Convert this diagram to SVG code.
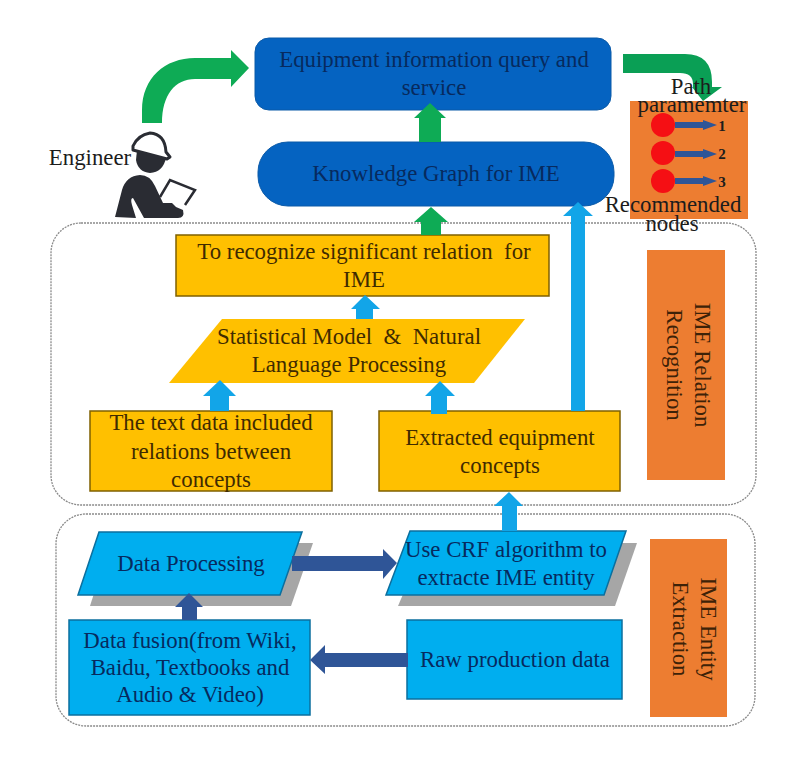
<svg xmlns="http://www.w3.org/2000/svg" width="800" height="763" viewBox="0 0 800 763">
<defs><style>
text{font-family:"Liberation Serif","Times New Roman",serif;font-size:22.8px;text-anchor:middle;white-space:pre}
.d{fill:#072a5e}.k{fill:#1c1c1c}.y{fill:#3f2b00}.r{fill:#3d2208}
.n{font-size:15px;font-weight:bold}
.blue{fill:#0563c1;stroke:#0b5aa8;stroke-width:1}
.cy{fill:#00aeef;stroke:#0b6f9e;stroke-width:1.5}
.am{fill:#ffc000;stroke:#7f6000;stroke-width:1.5}
.or{fill:#ed7d31}
.sh{fill:#a6a6a6}
.gr{fill:#0eab55}.lb{fill:#12a5e8}.nv{fill:#2f5597}
.pn{fill:none;stroke:#8a8a8a;stroke-width:1.3;stroke-dasharray:2 1}
.dot{fill:#f50f14}
.fig{fill:#2a2c33}
</style></defs>
<g id="panel-relation"><rect class="pn" x="51" y="223" width="705" height="282" rx="30"/></g>
<g id="panel-entity"><rect class="pn" x="56" y="514" width="699" height="212" rx="30"/></g>
<g id="query"><rect class="blue" x="255" y="38" width="356" height="72" rx="14"/><text class="d" x="434" y="67">Equipment information query and</text><text class="d" x="434" y="95">service</text></g>
<g id="kg"><rect class="blue" x="258" y="142" width="356" height="64" rx="30"/><text class="d" x="436" y="181">Knowledge Graph for IME</text></g>
<g id="engineer">
<path class="fig" d="M137 150L166 158Q163 172 150 173Q138 172 136 160Z"/>
<path fill="#fff" stroke="#2a2c33" stroke-width="3" stroke-linejoin="round" d="M133 146Q138 135 150 133Q165 134 166 152L170 157L167 159L133 150Z"/>
<path class="fig" d="M115 217L122 190Q126 176 140 175Q150 175 155 186L163 203L172 203L176 207L183 210Q185 218 178 218L144 218L133 198Q130 198 132 205L136 218Z"/>
<path fill="none" stroke="#2a2c33" stroke-width="2.5" d="M160 197L170 180L195 190L185 205"/>
<text class="k" x="90" y="165">Engineer</text>
</g>
<g id="result">
<rect class="or" x="630" y="101" width="118" height="118"/>
<path class="gr" style="fill:#0a9f55" d="M623 54H685Q712 54 712 82V87H722L703 101L692 87H693V84Q693 73 680 73H623Z"/>
<text class="k" x="691" y="94">Path</text><text class="k" x="692" y="112">paramemter</text>
<text class="k" x="673" y="212">Recommended</text><text class="k" x="672" y="231">nodes</text>
<circle class="dot" cx="663" cy="125" r="12"/><circle class="dot" cx="663" cy="153" r="12"/><circle class="dot" cx="663" cy="181" r="12"/>
<g class="nv"><path d="M675 122H703V120L717 125L703 130V128H675Z"/><path d="M675 151H703V149L717 154L703 159V157H675Z"/><path d="M675 178H703V176L717 181L703 186V184H675Z"/></g>
<text class="k n" x="722" y="131">1</text><text class="k n" x="722" y="159">2</text><text class="k n" x="722" y="187">3</text>
</g>
<g id="recognize"><rect class="am" x="176" y="235" width="373" height="61"/><text class="y" x="364" y="259">To recognize significant relation  for</text><text class="y" x="364" y="287">IME</text></g>
<g id="statistical"><path class="am" style="stroke:none" d="M222 319H525L474 383H169Z"/><text class="y" x="349" y="344">Statistical Model  &amp;  Natural</text><text class="y" x="349" y="372">Language Processing</text></g>
<g id="textdata"><rect class="am" x="90" y="411" width="242" height="80"/><text class="y" x="211" y="430">The text data included</text><text class="y" x="211" y="459">relations between</text><text class="y" x="211" y="487">concepts</text></g>
<g id="concepts"><rect class="am" x="379" y="411" width="241" height="80"/><text class="y" x="500" y="445">Extracted equipment</text><text class="y" x="500" y="473">concepts</text></g>
<g id="relation-label"><rect class="or" x="647" y="250" width="78" height="230"/><text class="r" transform="translate(673 365) rotate(90)" dy="-22">IME Relation</text><text class="r" transform="translate(673 365) rotate(90)" dy="6">Recognition</text></g>
<g id="entity-label"><rect class="or" x="650" y="539" width="77" height="178"/><text class="r" transform="translate(679 629) rotate(90)" dy="-22">IME Entity</text><text class="r" transform="translate(679 629) rotate(90)" dy="6">Extraction</text></g>
<g id="processing"><path class="sh" d="M110 543H313L291 606H90Z"/><path class="cy" d="M99 532H302L280 595H78Z"/><text class="d" x="191" y="571">Data Processing</text></g>
<g id="crf"><path class="sh" d="M425 543H637L615 606H398Z"/><path class="cy" d="M410 531H626L604 595H386Z"/><text class="d" x="506" y="557">Use CRF algorithm to</text><text class="d" x="506" y="585">extracte IME entity</text></g>
<g id="fusion"><rect class="cy" x="69" y="620" width="241" height="95"/><text class="d" x="190" y="648">Data fusion(from Wiki,</text><text class="d" x="190" y="675">Baidu, Textbooks and</text><text class="d" x="190" y="702">Audio &amp; Video)</text></g>
<g id="raw"><rect class="cy" x="407" y="620" width="215" height="79"/><text class="d" x="515" y="667">Raw production data</text></g>
<g id="connectors">
<g class="gr"><path d="M142 123V110C142 78 165 58 195 58H231V50L249 68L231 87V79H195C175 79 162 95 162 123Z"/><path d="M419 142V118H414L430 103L446 118H441V142Z"/><path d="M421 235V222H414L431 207L448 222H441V235Z"/></g>
<g class="lb"><path d="M571 411V216H563L578 202L593 216H585V411Z"/><path d="M356 319V309H351L365 295L380 309H373V319Z"/><path d="M210 411V396H203L220 380L236 396H229V411Z"/><path d="M431 414V396H425L440 381L455 396H447V414Z"/><path d="M502 531V506H494L509 492L523 506H517V531Z"/></g>
<g class="nv"><path d="M292 556H383V549L397 563L383 579V571H292Z"/><path d="M408 653H325V645L310 660L325 674V667H408Z"/><path d="M182 620V607H175L189 593L203 607H197V620Z"/></g>
</g>
</svg>
